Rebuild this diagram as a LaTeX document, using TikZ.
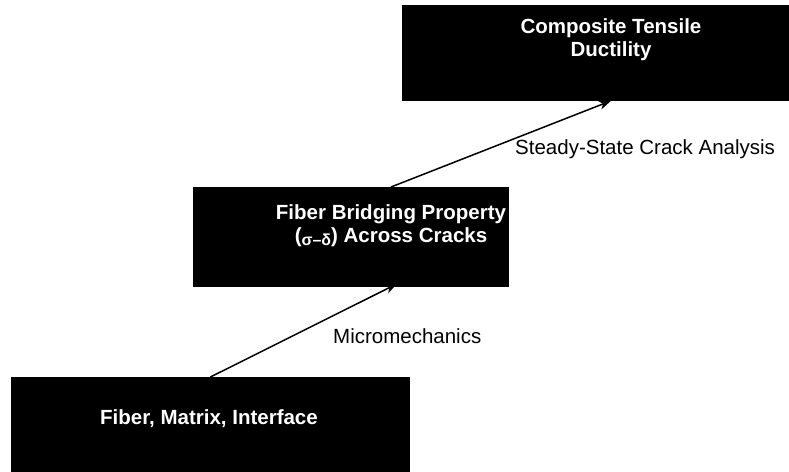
\documentclass[tikz,border=0pt]{standalone}
\usepackage{fontspec}
\setmainfont{Liberation Sans}
\usetikzlibrary{arrows.meta}
\begin{document}
\begin{tikzpicture}[x=1pt,y=-1pt,
  box/.style={draw=black,fill=black,line width=0.8pt},
  boxtext/.style={text=white,font=\fontsize{20.5}{23}\selectfont\bfseries,align=center,inner sep=0pt},
  lbl/.style={font=\fontsize{20.5}{23}\selectfont,inner sep=0pt,anchor=west},
  conn/.style={line width=1.5pt,-{Stealth[length=12pt,width=9pt,inset=3.5pt]}}]
\useasboundingbox (0,0) rectangle (789,471);
\fill[white] (0,0) rectangle (789,471);
% boxes
\node[box,minimum width=388pt,minimum height=95pt,inner sep=0pt,anchor=north west] (b1) at (402,5) {};
\node[box,minimum width=315pt,minimum height=99pt,inner sep=0pt,anchor=north west] (b2) at (193,187) {};
\node[box,minimum width=398pt,minimum height=96pt,inner sep=0pt,anchor=north west] (b3) at (11,377) {};
% texts
\node[boxtext] (t1) at (611,40) {Composite Tensile\\Ductility};
\node[boxtext] (t2) at (391,226) {Fiber Bridging Property\\(\raisebox{-3pt}{\fontsize{16}{16}\selectfont σ–δ}) Across Cracks};
\node[boxtext] (t3) at (209,419) {Fiber, Matrix, Interface};
% connectors
\draw[conn] (b3.north) -- ([yshift=3pt]b2.south -| 397,0);
\draw[conn] (b2.north -| t2) -- (b1.south -| t1);
% labels
\node[lbl] (l1) at (333,336) {Micromechanics};
\node[lbl] (l2) at (515,149) {Steady-State Crack Analysis};
\end{tikzpicture}
\end{document}
